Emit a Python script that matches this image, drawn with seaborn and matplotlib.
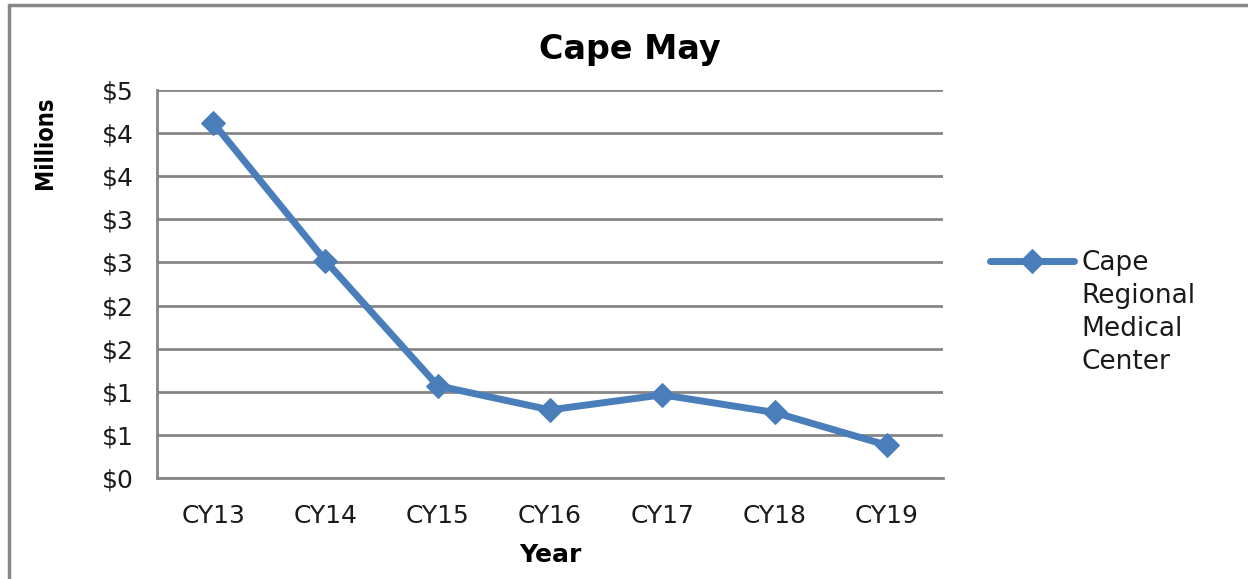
import matplotlib
matplotlib.use("Agg")
import matplotlib.pyplot as plt
import seaborn as sns
import pandas as pd

# data (millions of dollars)
years = ["CY13", "CY14", "CY15", "CY16", "CY17", "CY18", "CY19"]
values = [4.12, 2.52, 1.07, 0.79, 0.965, 0.76, 0.38]
series_name = "Cape\nRegional\nMedical\nCenter"
y_ticks = [0, 0.5, 1, 1.5, 2, 2.5, 3, 3.5, 4, 4.5]
y_tick_labels = ["$0", "$1", "$1", "$2", "$2", "$3", "$3", "$4", "$4", "$5"]

sns.set_style("white")
plt.rcParams["font.family"] = ["DejaVu Sans"]

blue = "#4A7EBB"
grey = "#868686"
txt = "#1a1a1a"

df = pd.DataFrame({"Year": years, "Value": values})

fig = plt.figure(figsize=(12.48, 5.79), dpi=100)
ax = fig.add_axes([157 / 1248, 1 - 478 / 579, (943 - 157) / 1248, (478 - 90) / 579])

sns.lineplot(data=df, x="Year", y="Value", ax=ax, sort=False, color=blue,
             linewidth=5, marker="D", markersize=12, markeredgecolor=blue,
             label=series_name)

ax.set_xlim(-0.5, len(years) - 0.5)
ax.set_ylim(0, 4.5)
ax.set_yticks(y_ticks)
ax.set_yticklabels(y_tick_labels, fontsize=18, color=txt)
ax.set_xticks(range(len(years)))
ax.set_xticklabels(years, fontsize=18, color=txt)
ax.set_xticks([i - 0.5 for i in range(len(years) + 1)], minor=True)
ax.tick_params(axis="x", which="major", length=0, pad=19)
ax.tick_params(axis="x", which="minor", length=8, width=2, color=grey, direction="out")
ax.tick_params(axis="y", length=9, width=2, color=grey, direction="out", pad=8)

ax.grid(axis="y", color=grey, linewidth=2)
ax.set_axisbelow(True)
for side in ["top", "right"]:
    ax.spines[side].set_visible(False)
for side in ["left", "bottom"]:
    ax.spines[side].set_color(grey)
    ax.spines[side].set_linewidth(2)
ax.set_xlabel("")
ax.set_ylabel("")

fig.text(0.505, 0.914, "Cape May", ha="center", va="center", fontsize=24, fontweight="bold", color="black")
fig.text(0.4407, 0.0415, "Year", ha="center", va="center", fontsize=18, fontweight="bold", color="black")
fig.text(0.036, 0.753, "Millions", ha="center", va="center", rotation=90, fontsize=17,
         fontweight="bold", fontstretch="condensed", color="black",
         family=["DejaVu Sans", "Liberation Sans Narrow"])

ax.get_legend().remove()
handles, labels = ax.get_legend_handles_labels()
leg = fig.legend(handles, labels, loc="upper left", bbox_to_anchor=(990 / 1248, 1 - 250 / 579),
                 frameon=False, fontsize=19, handlelength=3.2, handleheight=1.1,
                 handletextpad=0.25, borderpad=0, borderaxespad=0)
for t in leg.get_texts():
    t.set_linespacing(1.35)
    t.set_color(txt)
for col in leg._legend_handle_box.get_children():
    for item in col.get_children():
        item.align = "top"

# chart frame (top and left edges visible)
fig.add_artist(plt.Line2D([8.5 / 1248, 1], [1 - 5 / 579, 1 - 5 / 579], transform=fig.transFigure,
                          color=grey, linewidth=2.5))
fig.add_artist(plt.Line2D([8.5 / 1248, 8.5 / 1248], [0, 1 - 5 / 579], transform=fig.transFigure,
                          color=grey, linewidth=2.5))

fig.savefig("out.png", dpi=100)
